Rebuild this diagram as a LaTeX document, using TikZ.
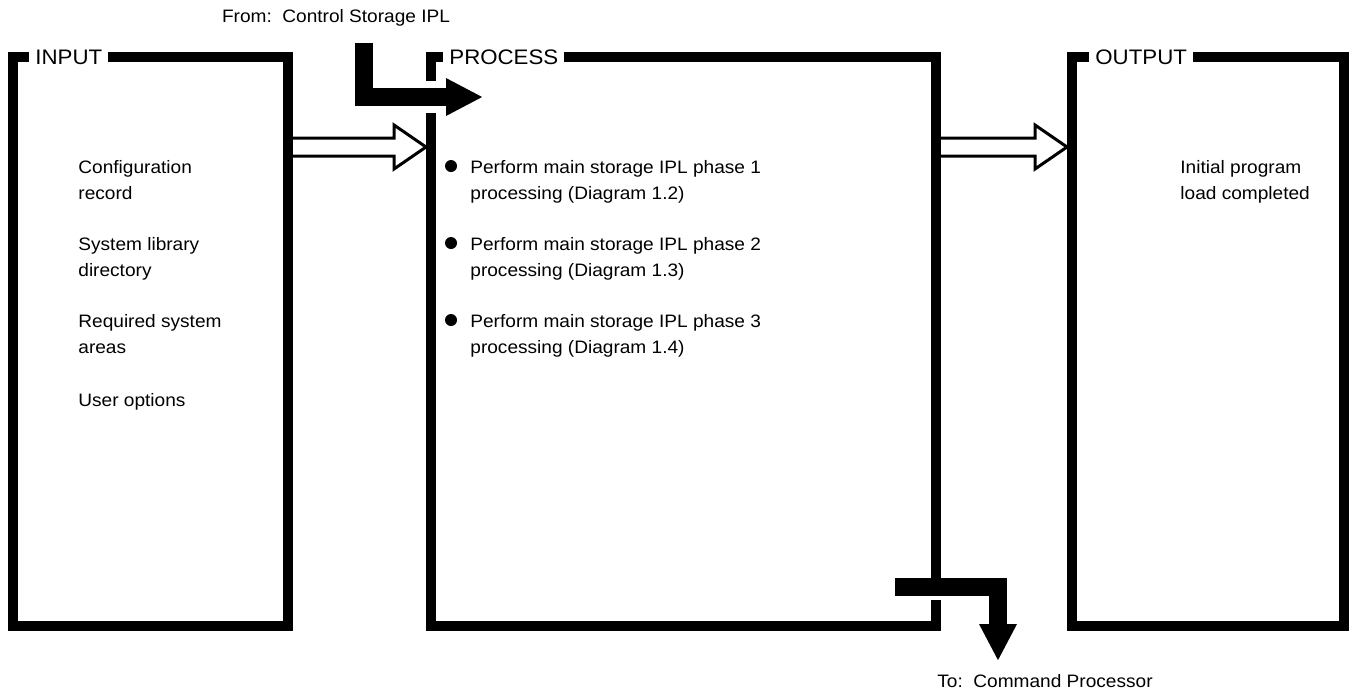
\documentclass[tikz,border=0pt]{standalone}
\usepackage{fontspec}
\setmainfont[FakeStretch=1.06]{Liberation Sans}
\usetikzlibrary{arrows.meta, positioning, calc}

% hollow block arrow between two points on one level
\newcommand{\hollowarrow}[2]{%
  \draw[hollow] ($(#1)+(0,-9)$) -- ($(#2)+(-32,-9)$) -- ($(#2)+(-32,-22)$) -- (#2)
    -- ($(#2)+(-32,22)$) -- ($(#2)+(-32,9)$) -- ($(#1)+(0,9)$);}

\begin{document}
\begin{tikzpicture}[x=0.5pt, y=-0.5pt,
    every node/.style={font=\fontsize{9}{13}\selectfont, inner sep=0pt},
    frame/.style={draw, line width=5pt, outer sep=0pt, minimum height=284.5pt},
    boxtitle/.style={fill=white, inner xsep=3pt, inner ysep=2pt, anchor=west, font=\fontsize{10.5}{13}\selectfont},
    item/.style={anchor=base west, align=left},
    dot/.style={circle, fill, minimum size=6pt},
    hollow/.style={draw, line width=1.5pt, fill=white, line join=miter},
    bigarrow/.style={line width=9pt, line join=miter, -{Triangle[length=18.5pt, width=17.5pt]}}]
  \useasboundingbox (0,0) rectangle (1358,692);

  % the three boxes
  \coordinate (hy) at (0,147);
  \node[frame, minimum width=137.5pt] (input) at (150.5,341.5) {};
  \node[frame, minimum width=252.5pt] (proc) at (683.5,341.5) {};
  \node[frame, minimum width=136pt] (output) at (1208,341.5) {};
  \hollowarrow{input.east |- hy}{$(proc.west |- hy)+(-5,0)$}
  \hollowarrow{proc.east |- hy}{$(output.west |- hy)+(-5,0)$}
  \draw[line width=5pt] (input.north east) -- (input.south east);
  \draw[line width=5pt] (proc.north east) -- (proc.south east);

  \node[boxtitle] (intitle) at (29,57) {INPUT};
  \node[boxtitle] (proctitle) at (443,57) {PROCESS};
  \node[boxtitle] (outtitle) at (1089,57) {OUTPUT};

  % input items (base = last line)
  \node[item] (cfg) at (78,199) {Configuration\\record};
  \node[item] (lib) at (78,276) {System library\\directory};
  \node[item] (areas) at (78,353) {Required system\\areas};
  \node[item] (opts) at (78,406) {User options};

  % process steps
  \node[item] (ph1) at (470,199) {Perform main storage IPL phase 1\\processing (Diagram 1.2)};
  \node[item] (ph2) at (470,276) {Perform main storage IPL phase 2\\processing (Diagram 1.3)};
  \node[item] (ph3) at (470,353) {Perform main storage IPL phase 3\\processing (Diagram 1.4)};
  \foreach \p in {ph1, ph2, ph3}
    \node[dot] at ($(\p.base west)+(-19,-33)$) {};

  % output
  \node[item] (done) at (1180,199) {Initial program\\load completed};

  % entry and exit
  \node (from) at (336,18) {From:\ \ Control Storage IPL};
  \coordinate (fromtop) at (364,43);
  \coordinate (entertip) at (483,97);
  \draw[white, line width=16pt] (fromtop) |- (entertip);
  \draw[bigarrow] (fromtop) |- (entertip);

  \fill[white] ($(proc.south east)+(-6,-31)$) rectangle ($(proc.south east)+(6,-26)$);
  \coordinate (exitstart) at (895,587);
  \coordinate (exittip) at (998,661);
  \draw[bigarrow] (exitstart) -| (exittip);
  \node (to) at (1045,681) {To:\ \ Command Processor};
\end{tikzpicture}
\end{document}
